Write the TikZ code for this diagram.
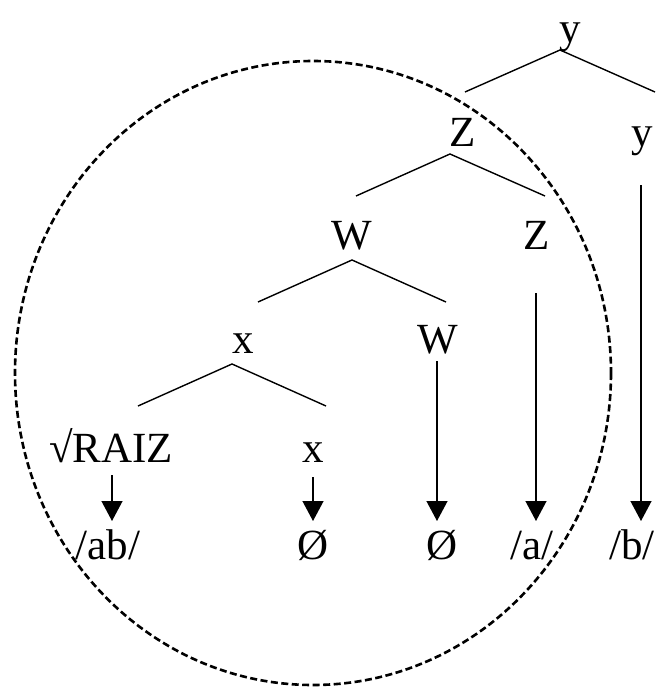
\documentclass[tikz,border=0pt]{standalone}
\usepackage{fontspec}
\setmainfont{Liberation Serif}
\usetikzlibrary{arrows.meta}
\begin{document}
\begin{tikzpicture}[x=1pt,y=-1pt,
  lbl/.style={anchor=base,inner sep=0pt,font=\fontsize{43}{50}\selectfont},
  branch/.style={line width=1.4pt},
  arr/.style={line width=1.3pt,-{Triangle[width=21pt,length=20pt]}},
  circ/.style={line width=2.6pt,dash pattern=on 7pt off 3.5pt}]
\useasboundingbox (0,0) rectangle (657,688);
% dashed ellipse
\draw[circ] (313,373) ellipse [x radius=298, y radius=312];
% nodes
\node[lbl] (y0) at (570,42) {y};
\node[lbl] (z1) at (463,146) {Z};
\node[lbl] (y1) at (642,146) {y};
\node[lbl] (w1) at (352,249) {W};
\node[lbl] (z2) at (537,249) {Z};
\node[lbl] (x1) at (243,353) {x};
\node[lbl] (w2) at (438,353) {W};
\node[lbl] (raiz) at (111,462) {√RAIZ};
\node[lbl] (x2) at (313,462) {x};
\node[lbl] (ab) at (108,559) {/ab/};
\node[lbl] (o1) at (313,559) {Ø};
\node[lbl] (o2) at (442,559) {Ø};
\node[lbl] (a) at (532,559) {/a/};
\node[lbl] (b) at (632,559) {/b/};
% branch coordinates
\coordinate (ay0) at (560,50);
\coordinate (ly0) at (465,92);
\coordinate (ry0) at (655,92);
\coordinate (az1) at (450,154);
\coordinate (lz1) at (356,196);
\coordinate (rz1) at (545,196);
\coordinate (aw1) at (352,260);
\coordinate (lw1) at (258,302);
\coordinate (rw1) at (446,302);
\coordinate (ax1) at (232,364);
\coordinate (lx1) at (138,406);
\coordinate (rx1) at (326,406);
\draw[branch] (ly0) -- (ay0) -- (ry0);
\draw[branch] (lz1) -- (az1) -- (rz1);
\draw[branch] (lw1) -- (aw1) -- (rw1);
\draw[branch] (lx1) -- (ax1) -- (rx1);
% arrow coordinates
\coordinate (s1) at (112,475); \coordinate (t1) at (112,521);
\coordinate (s2) at (313,477); \coordinate (t2) at (313,521);
\coordinate (s3) at (437,361); \coordinate (t3) at (437,521);
\coordinate (s4) at (536,293); \coordinate (t4) at (536,521);
\coordinate (s5) at (641,185); \coordinate (t5) at (641,521);
\draw[arr] (s1) -- (t1);
\draw[arr] (s2) -- (t2);
\draw[arr] (s3) -- (t3);
\draw[arr] (s4) -- (t4);
\draw[arr] (s5) -- (t5);
\end{tikzpicture}
\end{document}
